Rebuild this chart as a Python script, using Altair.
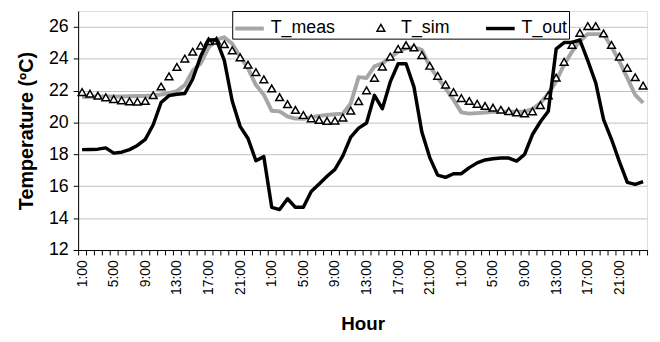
import altair as alt
import pandas as pd

series_names = ["T_meas", "T_sim", "T_out"]

T_meas = [21.60, 21.62, 21.63, 21.63, 21.63, 21.64, 21.65, 21.66, 21.67, 21.70, 21.76, 21.85,
          21.97, 22.35, 23.25, 23.70, 24.70, 25.20, 25.35, 24.95, 24.15, 23.40, 22.35, 21.75,
          20.74, 20.70, 20.38, 20.25, 20.24, 20.33, 20.42, 20.47, 20.52, 20.56, 21.20, 22.85,
          22.80, 23.53, 23.72, 24.07, 24.45, 24.66, 24.71, 24.56, 23.53, 22.82, 22.15, 21.44,
          20.64, 20.56, 20.59, 20.63, 20.67, 20.68, 20.68, 20.68, 20.68, 20.85, 21.23, 21.80,
          22.60, 23.63, 24.45, 25.12, 25.55, 25.55, 25.54, 24.76, 23.84, 22.80, 21.74, 21.23]

T_sim = [21.90, 21.80, 21.67, 21.57, 21.46, 21.38, 21.32, 21.30, 21.34, 21.70, 22.25, 22.89,
         23.48, 24.00, 24.43, 24.82, 25.10, 25.13, 24.90, 24.52, 24.08, 23.62, 23.15, 22.70,
         22.13, 21.58, 21.14, 20.78, 20.46, 20.25, 20.15, 20.09, 20.11, 20.30, 20.74, 21.33,
         22.01, 22.79, 23.50, 24.13, 24.61, 24.84, 24.70, 24.22, 23.55, 22.92, 22.37, 21.90,
         21.52, 21.34, 21.16, 21.03, 20.92, 20.79, 20.70, 20.62, 20.56, 20.69, 21.08, 21.69,
         22.80, 23.80, 24.86, 25.62, 26.04, 26.04, 25.58, 24.86, 24.13, 23.42, 22.83, 22.31]

T_out = [18.30, 18.31, 18.33, 18.41, 18.08, 18.14, 18.30, 18.56, 18.94, 19.86, 21.26, 21.69,
         21.78, 21.82, 22.73, 24.14, 25.18, 25.20, 23.90, 21.35, 19.76, 19.00, 17.60, 17.86,
         14.68, 14.54, 15.22, 14.68, 14.68, 15.67, 16.15, 16.63, 17.06, 17.91, 19.09, 19.65,
         19.97, 21.71, 20.87, 22.55, 23.69, 23.69, 22.24, 19.40, 17.80, 16.70, 16.56, 16.79,
         16.79, 17.17, 17.47, 17.65, 17.73, 17.77, 17.77, 17.58, 18.00, 19.25, 20.05, 20.71,
         24.63, 25.02, 25.03, 25.18, 23.89, 22.50, 20.18, 18.95, 17.55, 16.25, 16.12, 16.29]

y_ticks = [12, 14, 16, 18, 20, 22, 24, 26]

n = len(T_meas)
idx = list(range(1, n + 1))
rows = []
for name, vals in zip(series_names, [T_meas, T_sim, T_out]):
    for k, v in zip(idx, vals):
        rows.append({"k": k, "T": v, "series": name})
df = pd.DataFrame(rows)

FONT = "Liberation Sans"
tick_vals = [i + 0.5 for i in range(0, n + 1)]
label_expr = ("(datum.value - 0.5) % 4 == 0 && datum.value < 70 ? "
              "(((datum.value - 0.5) % 24) + 1) + ':00' : ''")

x_enc = alt.X("k:Q", scale=alt.Scale(domain=[0.5, n + 0.5], nice=False, zero=False),
              axis=alt.Axis(values=tick_vals, labelExpr=label_expr, labelAngle=-90,
                            labelOffset=4, labelFontSize=14, labelPadding=5,
                            labelOverlap=False, labelFlush=False, labelBound=False,
                            tickSize=5, tickColor="black", domainColor="black",
                            grid=False, title="Hour", titleFontSize=19,
                            titleFontWeight="bold", titlePadding=20,
                            labelFont=FONT, titleFont=FONT, labelColor="black",
                            titleColor="black"))
y_enc = alt.Y("T:Q", scale=alt.Scale(domain=[12, 27], nice=False, zero=False),
              axis=alt.Axis(values=y_ticks, labelFontSize=18, labelPadding=5,
                            tickSize=5, tickColor="black", domainColor="black",
                            grid=True, gridColor="#c0c0c0", gridWidth=1,
                            title="Temperature (ºC)", titleFontSize=20,
                            titleFontWeight="bold", titlePadding=12,
                            labelFont=FONT, titleFont=FONT, labelColor="black",
                            titleColor="black"))

# small open triangle drawn inside the common symbol box
TRI = "M0,-0.25L0.27,0.22L-0.27,0.22Z"

lg = alt.Legend(title=None)
color_enc = alt.Color("series:N",
                      scale=alt.Scale(type="ordinal", domain=series_names,
                                      range=["#a6a6a6", "#000000", "#000000"]),
                      legend=lg)
sw_enc = alt.StrokeWidth("series:N",
                         scale=alt.Scale(type="ordinal", domain=series_names, range=[4, 1.5, 3.5]),
                         legend=lg)
shape_enc = alt.Shape("series:N",
                      scale=alt.Scale(type="ordinal", domain=series_names,
                                      range=["stroke", TRI, "stroke"]),
                      legend=lg)

base = alt.Chart(df).encode(x=x_enc, y=y_enc, color=color_enc, strokeWidth=sw_enc, order="k:Q")

meas = base.transform_filter(alt.datum.series == "T_meas").mark_line(strokeJoin="round")
out = base.transform_filter(alt.datum.series == "T_out").mark_line(strokeJoin="round")
sim = base.transform_filter(alt.datum.series == "T_sim").mark_point(
    filled=False, fill="white", fillOpacity=1, opacity=1, size=841
).encode(shape=shape_enc)

chart = alt.layer(meas, sim, out).properties(
    width=576, height=242,
    autosize=alt.AutoSizeParams(type="none"),
    padding={"left": 71, "top": 1, "right": 5, "bottom": 85},
).configure_view(stroke="black", strokeWidth=1).configure(font=FONT).configure_legend(
    orient="none", legendX=156, legendY=0, direction="horizontal",
    labelFontSize=18, labelFont=FONT, labelColor="black", labelOffset=5,
    columnPadding=30, padding=1, strokeColor="black", fillColor="white",
    symbolOpacity=1, symbolSize=841,
)

chart.save("out.html", embed_options={"renderer": "svg", "actions": False})
